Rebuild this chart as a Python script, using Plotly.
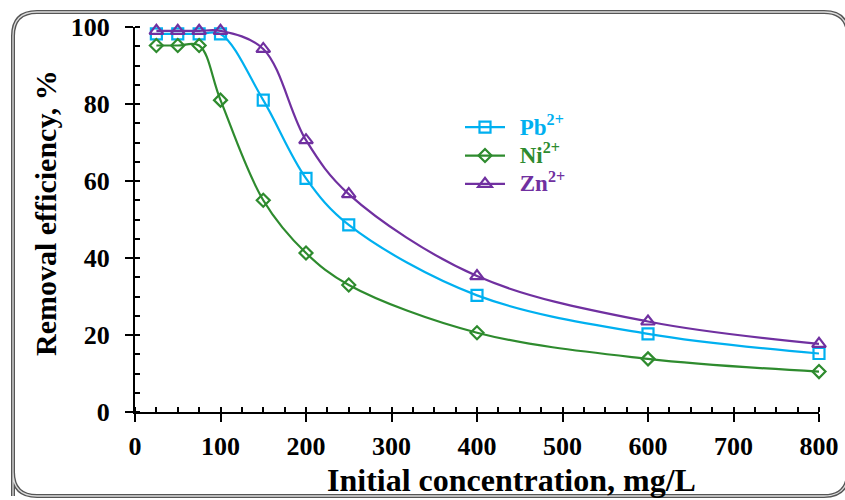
import plotly.graph_objects as go

conc = [25, 50, 75, 100, 150, 200, 250, 400, 600, 800]
pb = [98.2, 98.2, 98.2, 98.2, 81.0, 60.7, 48.6, 30.3, 20.3, 15.2]
ni = [95.2, 95.2, 95.2, 81.0, 55.0, 41.3, 33.0, 20.6, 13.8, 10.5]
zn = [99.0, 99.0, 99.0, 99.0, 94.3, 70.6, 56.6, 35.3, 23.5, 17.7]

C_PB = "#00B0F0"
C_NI = "#2E8B2E"
C_ZN = "#7030A0"
FONT = "Liberation Serif"

W, H = 845, 500
L, R, T, B = 135, 26, 27, 88
pw, ph = W - L - R, H - T - B

def px(x):
    return (x - L) / pw

def py(y):
    return (H - B - y) / ph

fig = go.Figure()
for name, ys, col, sym, sz in [("Pb", pb, C_PB, "square-open", 11),
                               ("Ni", ni, C_NI, "diamond-open", 10),
                               ("Zn", zn, C_ZN, "triangle-up-open", 12)]:
    fig.add_trace(go.Scatter(
        x=conc, y=ys, mode="lines+markers",
        name=(f'&nbsp;&nbsp;<span style="color:{col};font-size:23px">'
              f'{name}<sup>2+</sup></span>'),
        line=dict(color=col, width=2.2, shape="spline", smoothing=1),
        marker=dict(symbol=sym, size=sz, color=col, line=dict(color=col, width=2.2)),
        cliponaxis=False,
    ))

axis_common = dict(showgrid=False, zeroline=False, linecolor="black", linewidth=2,
                   tickcolor="black", tickwidth=2, ticklen=8, ticks="outside",
                   automargin=False,
                   tickfont=dict(family=FONT, size=26, color="black", weight="bold"))

fig.update_layout(
    width=W, height=H, margin=dict(l=L, r=R, t=T, b=B, autoexpand=False),
    paper_bgcolor="white", plot_bgcolor="white",
    showlegend=True,
    legend=dict(x=px(460), y=py(108), xanchor="left", yanchor="top",
                bgcolor="rgba(0,0,0,0)", tracegroupgap=0,
                font=dict(family=FONT, size=19.5, weight="bold"),
                itemwidth=40),
    xaxis=dict(range=[0, 800], dtick=100, tick0=0, showline=True,
               minor=dict(dtick=25, ticks="inside", ticklen=5, tickwidth=1.5, tickcolor="black"),
               ticklabelstandoff=2, **axis_common),
    yaxis=dict(range=[0, 100], dtick=20, tick0=0, showline=True,
               minor=dict(dtick=5, ticks="inside", ticklen=5, tickwidth=1.5, tickcolor="black"),
               ticklabelstandoff=10, **axis_common),
    xaxis2=dict(overlaying="x", anchor="y", side="bottom", range=[0, 800], dtick=100,
                ticks="inside", ticklen=8, tickwidth=2, tickcolor="black",
                showticklabels=False, showline=False, showgrid=False, zeroline=False),
    yaxis2=dict(overlaying="y", anchor="x", side="left", range=[0, 100], dtick=20,
                ticks="inside", ticklen=8, tickwidth=2, tickcolor="black",
                showticklabels=False, showline=False, showgrid=False, zeroline=False),
)

fig.add_annotation(text="Initial concentration, mg/L", xref="paper", yref="paper",
                   x=px(511), y=py(480), xanchor="center", yanchor="middle", showarrow=False,
                   font=dict(family=FONT, size=32, color="black", weight="bold"))
fig.add_annotation(text="Removal efficiency, %", xref="paper", yref="paper",
                   x=px(45), y=py(213), xanchor="center", yanchor="middle",
                   showarrow=False, textangle=-90,
                   font=dict(family=FONT, size=30, color="black", weight="bold"))

# rounded double frame
x0, x1, y0, y1, r = 13, 848, 12, 496, 24
path = (f"M {px(x0)} {py(y1)} L {px(x0)} {py(y0 + r)} "
        f"Q {px(x0)} {py(y0)} {px(x0 + r)} {py(y0)} "
        f"L {px(x1 - r)} {py(y0)} Q {px(x1)} {py(y0)} {px(x1)} {py(y0 + r)} "
        f"L {px(x1)} {py(y1 - r)} Q {px(x1)} {py(y1)} {px(x1 - r)} {py(y1)} "
        f"L {px(x0 + r)} {py(y1)} Q {px(x0)} {py(y1)} {px(x0)} {py(y1 - r)} Z")
fig.add_shape(type="path", path=path, xref="paper", yref="paper",
              line=dict(color="#555555", width=4), layer="below")
fig.add_shape(type="path", path=path, xref="paper", yref="paper",
              line=dict(color="#dddddd", width=1.3), layer="below")

fig.write_html("out.html")
